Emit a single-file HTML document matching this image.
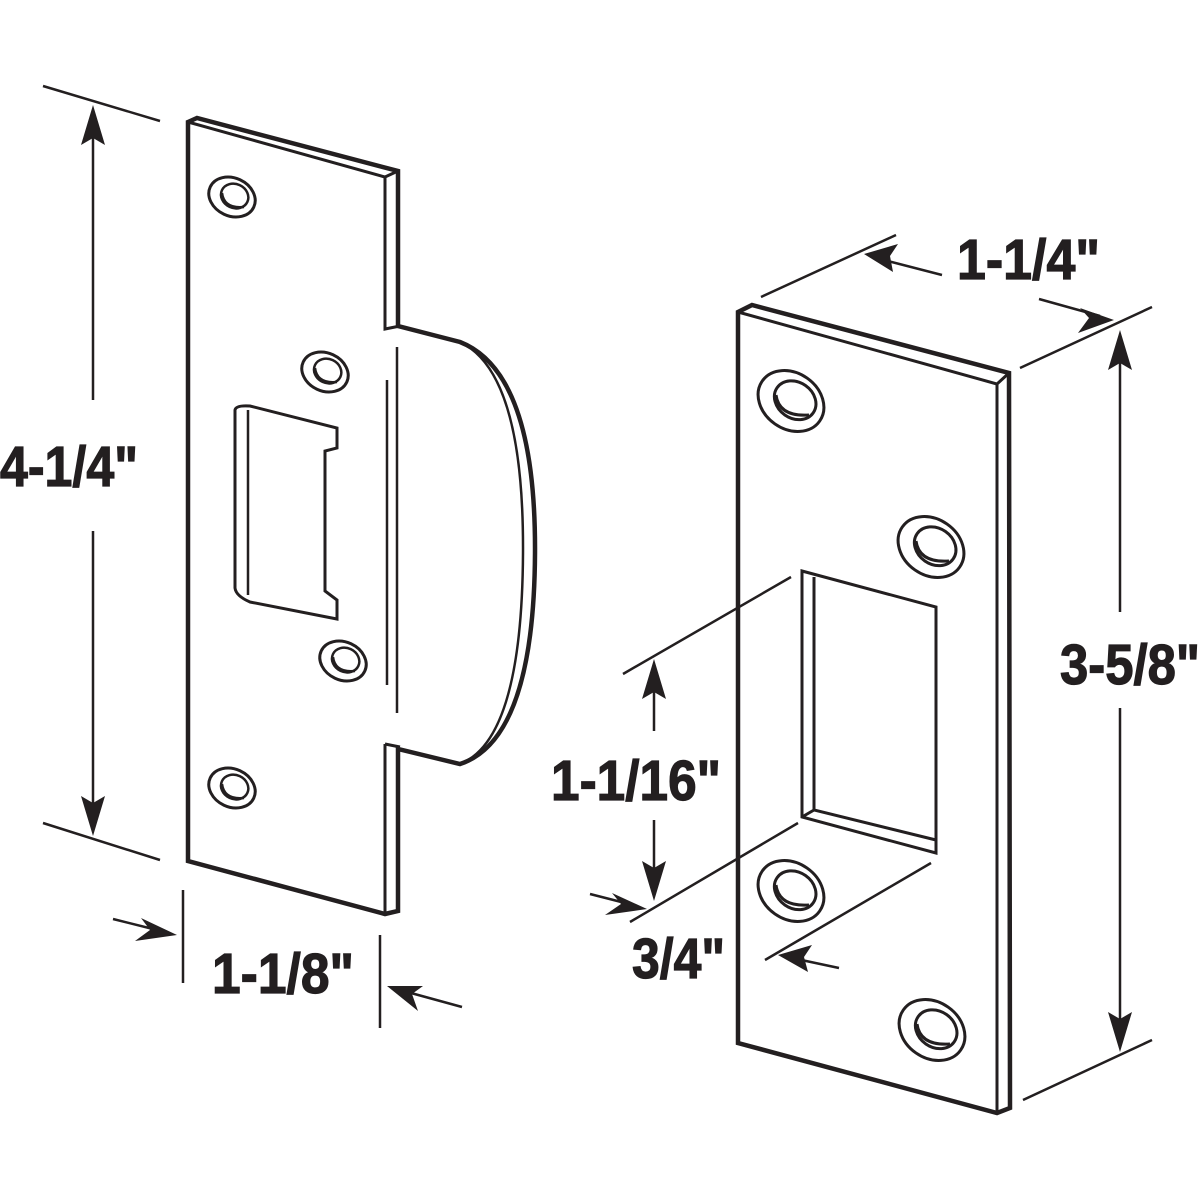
<!DOCTYPE html>
<html><head><meta charset="utf-8"><style>
html,body{margin:0;padding:0;background:#fff;}
svg{display:block;}
text{font-family:"Liberation Sans Narrow","Liberation Sans",sans-serif;font-weight:bold;fill:#231f20;stroke:#231f20;stroke-width:1.2;}
</style></head><body>
<svg width="1200" height="1200" viewBox="0 0 1200 1200" xmlns="http://www.w3.org/2000/svg">
<defs>
<g id="holeL">
 <ellipse cx="0" cy="0" rx="24" ry="19" transform="rotate(25)" fill="#fff" stroke="#231f20" stroke-width="3"/>
 <ellipse cx="2" cy="-2" rx="14" ry="12" transform="rotate(25)" fill="#fff" stroke="#231f20" stroke-width="2.5"/>
 <path d="M-10,-4 Q-8,12 12,10" fill="none" stroke="#231f20" stroke-width="2.5"/>
</g>
<g id="holeR">
 <ellipse cx="0" cy="0" rx="35" ry="28" transform="rotate(35)" fill="#fff" stroke="#231f20" stroke-width="3"/>
 <ellipse cx="3" cy="-3" rx="22" ry="18" transform="rotate(35)" fill="#fff" stroke="#231f20" stroke-width="3"/>
 <path d="M-15,-6 Q-12,16 18,14" fill="none" stroke="#231f20" stroke-width="3"/>
</g>
</defs>
<g stroke="#231f20" fill="none" stroke-linejoin="miter">
<path d="M188,122 L197,118 L398,171 L398,326 L460,342 Q536,372 535,553 Q534,740 460,764 L398,749 L398,911 L385,914 L188,861 Z" fill="#fff" stroke-width="4.5"/>
<path d="M188,122 L385,177 L385,329 L400,326 M385,177 L398,171 M385,744 L385,914 M385,744 L400,747" stroke-width="3"/>
<path d="M460,342 Q524,372 523,553 Q522,740 460,764" stroke-width="2.5"/>
<path d="M397,347 L397,713 M387,380 L387,685" stroke-width="2.5"/>
<path d="M235,410 Q236,405 250,406 L337,428 L337,448 L325,451 L325,591 L337,600 L337,619 L250,602 Q236,596 235,588 Z" fill="#fff" stroke-width="3"/>
<path d="M248,410 L248,595" stroke-width="2.5"/>
<use href="#holeL" x="232" y="197"/>
<use href="#holeL" x="325" y="372"/>
<use href="#holeL" x="343" y="661"/>
<use href="#holeL" x="232" y="788"/>

<path d="M738,312 L752,305 L1009,373 L1010,1108 L997,1113 L738,1043 Z" fill="#fff" stroke-width="4.5"/>
<path d="M738,312 L997,384 L997,1113 M997,384 L1009,373" stroke-width="3"/>
<path d="M802,571 L936,607 L936,853 L802,817 Z" stroke-width="3"/>
<path d="M814,577 L814,810 L936,840 M802,817 L814,810" stroke-width="3"/>
<use href="#holeR" x="791" y="401"/>
<use href="#holeR" x="931" y="547"/>
<use href="#holeR" x="791" y="891"/>
<use href="#holeR" x="932" y="1030"/>

<g stroke-width="2.5">
<path d="M43,86 L160,121 M43,823 L160,860"/>
<path d="M93,120 L93,400 M93,531 L93,820"/>
<path d="M183,890 L183,983 M380,935 L380,1028"/>
<path d="M113,919 L165,932 M462,1007 L400,990"/>
<path d="M761,297 L896,235 M1020,368 L1152,307"/>
<path d="M942,275 L880,259 M1039,299 L1100,316"/>
<path d="M1120,345 L1120,612 M1120,708 L1120,1036 M1023,1100 L1152,1040"/>
<path d="M623,674 L791,577 M630,922 L798,823"/>
<path d="M654,675 L654,731 M654,820 L654,886"/>
<path d="M765,960 L931,863"/>
<path d="M590,894 L633,905 M839,968 L792,958"/>
</g>
</g>
<g fill="#231f20">
<polygon points="93,105 81,145 93,138 105,145"/>
<polygon points="93,836 81,796 93,803 105,796"/>
<polygon points="177,935 141,918 150,930 135,941"/>
<polygon points="387,986 423,986 412,994 418,1011"/>
<polygon points="864,254 898,244 890,256 893,272"/>
<polygon points="1114,320 1080,308 1089,318 1078,333"/>
<polygon points="1120,330 1108,370 1120,363 1132,370"/>
<polygon points="1120,1052 1108,1012 1120,1019 1132,1012"/>
<polygon points="654,659 642,699 654,692 666,699"/>
<polygon points="654,901 642,861 654,868 666,861"/>
<polygon points="647,909 612,893 621,904 605,915"/>
<polygon points="778,955 812,945 804,957 808,972"/>
</g>
<g font-size="57">
<text x="0" y="486" textLength="138" lengthAdjust="spacingAndGlyphs">4-1/4"</text>
<text x="212" y="993" textLength="142" lengthAdjust="spacingAndGlyphs">1-1/8"</text>
<text x="957" y="279" textLength="143" lengthAdjust="spacingAndGlyphs">1-1/4"</text>
<text x="1060" y="684" textLength="140" lengthAdjust="spacingAndGlyphs">3-5/8"</text>
<text x="551" y="800" textLength="170" lengthAdjust="spacingAndGlyphs">1-1/16"</text>
<text x="632" y="978" textLength="93" lengthAdjust="spacingAndGlyphs">3/4"</text>
</g>
</svg>
</body></html>
